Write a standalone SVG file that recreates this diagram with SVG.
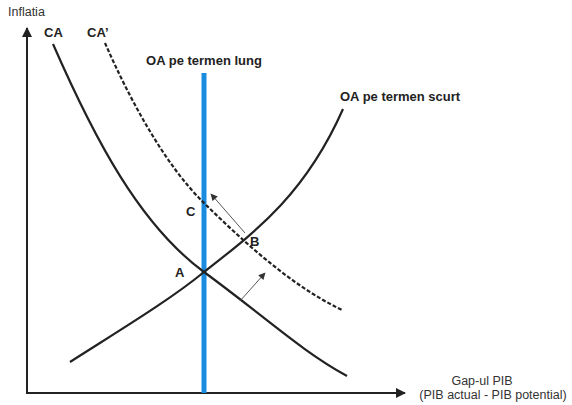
<svg xmlns="http://www.w3.org/2000/svg" width="572" height="405" viewBox="0 0 572 405">
<defs>
<marker id="ah" viewBox="0 0 10 10" refX="9" refY="5" markerWidth="10" markerHeight="10" markerUnits="userSpaceOnUse" orient="auto"><path d="M0,0 L10,5 L0,10 z" fill="#222"/></marker>
<marker id="sa" viewBox="0 0 10 10" refX="9" refY="5" markerWidth="8" markerHeight="7" markerUnits="userSpaceOnUse" orient="auto"><path d="M0,0 L10,5 L0,10 z" fill="#333"/></marker>
</defs>
<style>
.lbl{font-family:"Liberation Sans",Arial,sans-serif;font-weight:bold;font-size:13px;fill:#222}
.ax{font-family:"Liberation Sans",Arial,sans-serif;font-size:12.5px;fill:#333}
.curve{fill:none;stroke:#222;stroke-width:2.2}
.dash{fill:none;stroke:#222;stroke-width:2.2;stroke-dasharray:4,2}
.thin{fill:none;stroke:#444;stroke-width:0.9}
</style>
<rect width="572" height="405" fill="#fff"/>
<g id="axes">
<line x1="27" y1="393" x2="27" y2="28" stroke="#222" stroke-width="2" marker-end="url(#ah)"/>
<line x1="26" y1="393" x2="405" y2="393" stroke="#222" stroke-width="2" marker-end="url(#ah)"/>
<text class="ax" x="8" y="16">Inflatia</text>
<text class="ax" x="482" y="385" text-anchor="middle">Gap-ul PIB</text>
<text class="ax" x="493" y="399" text-anchor="middle">(PIB actual - PIB potential)</text>
</g>
<g id="OA-lung">
<line x1="204" y1="73" x2="204" y2="393" stroke="#1a8ce0" stroke-width="5"/>
<text class="lbl" x="204" y="65" text-anchor="middle">OA pe termen lung</text>
</g>
<g id="CA">
<path class="curve" d="M53,44 C95,140 140,225 204,272 S300,350 347,376"/>
<text class="lbl" x="44" y="37">CA</text>
</g>
<g id="CA-prime">
<path class="dash" d="M105,43 C130,100 165,165 204,203 S290,285 342,310"/>
<text class="lbl" x="87" y="37">CA’</text>
</g>
<g id="OA-scurt">
<path class="curve" d="M70,362 C120,330 170,300 204,272 C255,232 305,195 343,109"/>
<text class="lbl" x="340" y="101">OA pe termen scurt</text>
</g>
<g id="points">
<text class="lbl" x="175" y="277">A</text>
<text class="lbl" x="250" y="246">B</text>
<text class="lbl" x="186" y="216">C</text>
</g>
<g id="connectors">
<line class="thin" x1="240" y1="301" x2="265" y2="273" marker-end="url(#sa)"/>
<line class="thin" x1="245" y1="233" x2="211" y2="194" marker-end="url(#sa)"/>
</g>
</svg>
